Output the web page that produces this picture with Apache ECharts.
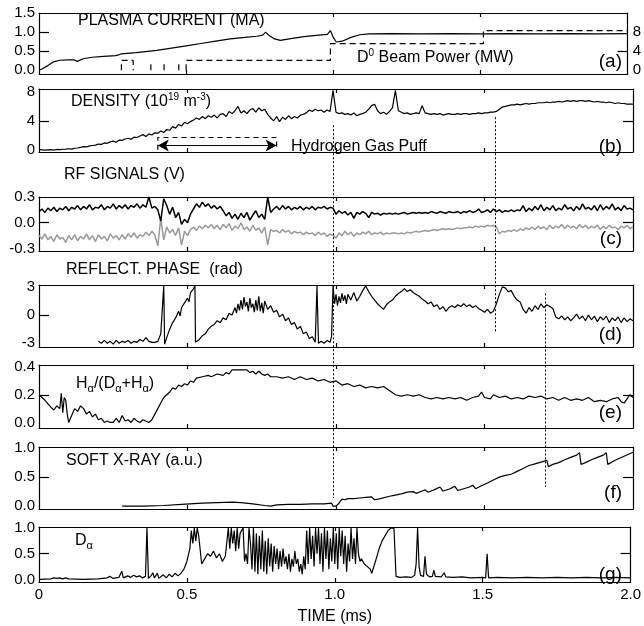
<!DOCTYPE html>
<html>
<head>
<meta charset="utf-8">
<script src="https://cdn.jsdelivr.net/npm/echarts@6/dist/echarts.min.js"></script>
<style>
html, body { margin: 0; padding: 0; background: #fff; }
#main { width: 644px; height: 626px; }
</style>
</head>
<body>
<div id="main"></div>
<script>
// ---- data (time in ms) ----
var timeTicks = [0.5, 1.0, 1.5];
var timeLabels = [0, 0.5, 1.0, 1.5, 2.0];

// (a) plasma current, MA
var plasmaCurrent = [[0,0.0],[0.01,0.03],[0.03,0.12],[0.05,0.22],[0.07,0.26],[0.1,0.27],[0.12,0.27],[0.13,0.23],[0.15,0.3],[0.18,0.34],[0.22,0.36],[0.26,0.38],[0.27,0.4],[0.28,0.43],[0.33,0.46],[0.4,0.52],[0.45,0.58],[0.5,0.64],[0.55,0.7],[0.6,0.76],[0.65,0.82],[0.7,0.86],[0.74,0.89],[0.76,0.92],[0.77,1.0],[0.78,0.92],[0.8,0.82],[0.82,0.78],[0.85,0.82],[0.9,0.88],[0.95,0.92],[0.98,0.94],[0.99,1.04],[1.0,0.86],[1.01,0.74],[1.03,0.76],[1.06,0.86],[1.09,0.93],[1.12,0.95],[1.2,0.96],[1.3,0.95],[1.4,0.96],[1.5,0.95],[1.6,0.96],[1.7,0.95],[1.8,0.96],[1.9,0.95],[2.0,0.96]];
// (a) D0 beam power, MW ('-' = gap)
var beamPower = [[0.28,0],[0.28,2.05],[0.32,2.05],[0.32,0],[0.35,'-'],[0.38,0],[0.38,2.05],[0.40,'-'],[0.425,0],[0.425,2.05],[0.45,'-'],[0.475,0],[0.475,2.05],[0.49,'-'],[0.5,0],[0.5,2.05],[0.99,2.05],[0.99,5.56],[1.51,5.56],[1.51,8.3],[2.0,8.3]];

// (b) density, 1e19 m^-3, every 0.01 ms
var density = [0.05,0.0,-0.05,0.0,0.02,-0.03,0.05,0.02,0.08,0.1,
  0.15,0.1,0.22,0.25,0.35,0.45,0.4,0.55,0.6,0.65,
  0.8,0.75,0.95,0.9,1.1,1.2,1.05,1.35,1.3,1.5,
  1.6,1.45,1.75,1.7,1.9,2.1,1.85,2.2,2.05,2.35,
  2.3,2.6,2.4,2.8,2.7,3.2,3.0,3.5,3.3,3.8,
  3.6,3.9,4.1,4.4,4.2,4.6,4.3,4.7,4.5,4.8,
  4.4,4.9,5.0,4.6,5.3,5.0,5.4,6.0,5.1,5.4,
  5.0,5.5,5.7,5.2,5.8,5.4,5.6,4.9,4.4,4.0,
  4.6,3.9,4.5,4.2,4.7,4.3,4.6,4.4,4.8,4.9,
  5.1,5.5,5.3,5.6,5.4,5.5,5.2,5.5,5.3,8.2,
  5.2,5.0,5.1,4.9,5.0,4.8,5.1,4.7,4.9,5.0,
  5.2,5.6,6.1,6.3,5.4,5.0,5.2,4.9,5.3,5.8,
  8.2,5.4,5.2,5.0,5.1,4.9,5.0,5.1,5.0,6.1,
  5.1,5.0,4.9,5.0,4.9,5.0,4.8,4.9,5.0,4.9,
  4.9,5.0,4.9,5.0,5.0,4.9,5.0,5.0,5.1,5.0,
  5.1,5.1,5.2,5.2,5.3,5.6,5.9,6.0,6.1,6.2,
  6.2,6.3,6.2,6.3,6.4,6.3,6.4,6.4,6.5,6.5,
  6.5,6.6,6.5,6.6,6.6,6.7,6.6,6.7,6.8,6.7,
  6.8,6.7,6.8,6.8,6.7,6.8,6.7,6.6,6.7,6.6,
  6.6,6.5,6.6,6.5,6.4,6.5,6.4,6.4,6.3,6.3,
  6.3];
var gasPuff = [[0.4,0],[0.4,1.7],[0.8,1.7],[0.8,0]];
var gasPuffArrow = [0.4, 0.8, 0.6];

// (c) RF signals, V, every 0.01 ms
var rfBlack = [0.13,0.16,0.12,0.17,0.14,0.18,0.13,0.17,0.15,0.19,
  0.14,0.18,0.16,0.20,0.15,0.19,0.16,0.21,0.15,0.18,
  0.17,0.21,0.15,0.19,0.17,0.22,0.16,0.20,0.17,0.21,
  0.16,0.20,0.18,0.22,0.17,0.21,0.18,0.30,0.17,0.19,
  0.15,0.02,0.28,0.20,0.10,0.18,0.06,0.12,-0.02,0.04,
  0.0,0.10,0.16,0.22,0.18,0.24,0.19,0.22,0.17,0.20,
  0.16,0.19,0.14,0.08,0.12,0.05,0.10,0.04,0.11,0.06,
  0.12,0.03,0.09,0.14,0.06,0.10,0.04,0.30,0.12,0.16,
  0.19,0.15,0.20,0.16,0.19,0.15,0.18,0.16,0.19,0.15,
  0.18,0.16,0.19,0.15,0.18,0.17,0.19,0.16,0.18,0.17,
  0.10,0.14,0.11,0.13,0.09,0.12,0.05,0.12,0.10,0.13,
  0.11,0.06,0.12,0.10,0.11,0.09,0.11,0.10,0.11,0.10,
  0.11,0.10,0.11,0.12,0.10,0.11,0.12,0.11,0.12,0.11,
  0.12,0.11,0.13,0.12,0.11,0.13,0.12,0.11,0.13,0.12,
  0.12,0.13,0.11,0.13,0.12,0.14,0.12,0.13,0.16,0.12,
  0.13,0.15,0.12,0.16,0.13,0.15,0.12,0.14,0.13,0.15,
  0.13,0.15,0.14,0.20,0.13,0.17,0.14,0.19,0.15,0.21,
  0.14,0.18,0.15,0.20,0.14,0.17,0.15,0.21,0.16,0.18,
  0.14,0.19,0.15,0.22,0.16,0.18,0.15,0.20,0.14,0.21,
  0.15,0.19,0.16,0.22,0.15,0.18,0.14,0.20,0.16,0.17,
  0.15];
var rfGray = [-0.15,-0.19,-0.13,-0.20,-0.16,-0.22,-0.14,-0.19,-0.17,-0.23,
  -0.15,-0.20,-0.14,-0.21,-0.16,-0.19,-0.13,-0.20,-0.15,-0.22,
  -0.14,-0.19,-0.16,-0.21,-0.13,-0.18,-0.15,-0.20,-0.14,-0.19,
  -0.13,-0.17,-0.12,-0.18,-0.14,-0.16,-0.11,-0.15,-0.10,-0.14,
  -0.27,0.05,-0.20,-0.05,-0.12,-0.08,-0.15,-0.06,-0.26,-0.10,
  -0.15,-0.08,-0.05,-0.09,-0.04,-0.07,-0.03,-0.06,-0.02,-0.07,
  -0.03,-0.08,-0.02,-0.06,-0.01,-0.09,-0.04,-0.07,0.0,-0.08,
  -0.05,-0.10,-0.03,-0.09,-0.06,-0.12,-0.05,-0.26,-0.08,-0.10,
  -0.09,-0.12,-0.08,-0.11,-0.09,-0.13,-0.10,-0.12,-0.11,-0.14,
  -0.11,-0.13,-0.12,-0.15,-0.11,-0.14,-0.12,-0.16,-0.13,-0.15,
  -0.18,-0.12,-0.15,-0.10,-0.14,-0.11,-0.16,-0.12,-0.14,-0.11,
  -0.13,-0.10,-0.14,-0.12,-0.13,-0.11,-0.14,-0.12,-0.13,-0.12,
  -0.12,-0.13,-0.12,-0.13,-0.11,-0.12,-0.11,-0.10,-0.11,-0.10,
  -0.09,-0.10,-0.09,-0.08,-0.09,-0.08,-0.07,-0.08,-0.07,-0.08,
  -0.07,-0.06,-0.07,-0.06,-0.06,-0.05,-0.06,-0.04,-0.05,-0.04,
  -0.05,-0.03,-0.04,-0.03,-0.05,-0.13,-0.10,-0.11,-0.09,-0.10,
  -0.08,-0.10,-0.07,-0.09,-0.06,-0.08,-0.05,-0.08,-0.04,-0.07,
  -0.05,-0.08,-0.03,-0.07,-0.04,-0.06,-0.02,-0.07,-0.03,-0.06,
  -0.04,-0.07,-0.02,-0.06,-0.03,-0.07,-0.04,-0.06,-0.03,-0.08,
  -0.04,-0.07,-0.03,-0.06,-0.05,-0.08,-0.04,-0.06,-0.03,-0.07,
  -0.05];

// (d) reflectometer phase, rad
var phase = [[0.20,-2.8],[0.21,-3.0],[0.22,-2.7],[0.23,-3.0],[0.24,-2.8],[0.25,-3.1],[0.26,-2.7],[0.27,-3.0],[0.28,-2.8],[0.29,-2.9],[0.30,-2.7],[0.31,-3.0],[0.32,-2.8],[0.33,-2.9],[0.34,-2.6],[0.35,-2.8],[0.36,-2.4],[0.37,-2.8],[0.38,-2.9],[0.39,-2.9],[0.40,-2.8],[0.41,-2.0],[0.42,3.1],[0.423,-3.1],[0.43,-2.4],[0.44,-1.5],[0.45,-0.8],[0.46,-0.3],[0.47,0.4],[0.475,-0.1],[0.48,0.8],[0.49,1.3],[0.50,1.8],[0.505,1.4],[0.51,2.4],[0.52,2.8],[0.525,3.1],[0.527,-2.9],[0.54,-2.6],[0.55,-2.2],[0.56,-2.0],[0.57,-1.5],[0.58,-1.2],[0.59,-1.0],[0.60,-0.6],[0.61,-0.8],[0.62,-0.3],[0.63,-0.5],[0.64,0.2],[0.65,0.0],[0.66,0.8],[0.665,0.2],[0.67,1.2],[0.675,0.5],[0.68,1.6],[0.685,0.6],[0.69,1.9],[0.695,0.9],[0.70,1.4],[0.705,0.4],[0.71,1.8],[0.715,0.8],[0.72,1.2],[0.725,0.3],[0.73,1.6],[0.735,0.5],[0.74,2.0],[0.745,0.4],[0.75,1.3],[0.755,0.2],[0.76,1.5],[0.77,0.6],[0.78,1.0],[0.79,0.3],[0.80,0.5],[0.81,-0.2],[0.82,0.1],[0.83,-0.6],[0.84,-0.3],[0.85,-1.0],[0.86,-0.8],[0.87,-1.5],[0.88,-1.2],[0.89,-2.0],[0.90,-1.8],[0.91,-2.5],[0.92,-2.3],[0.93,-2.9],[0.935,-3.0],[0.936,3.1],[0.94,3.1],[0.941,-3.0],[0.95,-2.8],[0.96,-3.0],[0.97,-2.7],[0.98,-2.9],[0.985,-2.3],[0.99,3.1],[0.995,1.2],[1.00,2.2],[1.005,1.0],[1.01,2.0],[1.015,1.3],[1.02,2.3],[1.025,1.5],[1.03,2.1],[1.035,1.2],[1.04,2.2],[1.05,1.6],[1.06,2.4],[1.07,1.5],[1.08,2.0],[1.09,2.6],[1.10,3.1],[1.11,2.5],[1.12,2.0],[1.13,1.6],[1.14,1.2],[1.15,0.9],[1.16,0.6],[1.17,1.1],[1.18,1.4],[1.19,1.6],[1.20,2.0],[1.21,2.3],[1.22,2.5],[1.23,2.8],[1.24,2.5],[1.25,2.7],[1.26,2.4],[1.27,2.2],[1.28,2.0],[1.29,1.7],[1.30,1.5],[1.31,1.2],[1.32,1.4],[1.33,0.9],[1.34,1.1],[1.35,0.6],[1.36,0.9],[1.37,0.4],[1.38,0.8],[1.39,1.0],[1.40,0.8],[1.41,1.1],[1.42,0.9],[1.43,1.2],[1.44,0.9],[1.45,1.1],[1.46,0.8],[1.47,1.0],[1.48,0.7],[1.49,0.5],[1.50,0.3],[1.51,0.6],[1.52,0.2],[1.53,0.4],[1.54,1.2],[1.55,2.2],[1.56,3.0],[1.57,2.9],[1.58,2.5],[1.59,2.6],[1.60,2.0],[1.61,1.6],[1.62,1.4],[1.63,0.6],[1.64,0.2],[1.65,0.8],[1.66,0.4],[1.67,1.0],[1.68,0.6],[1.69,1.2],[1.70,0.8],[1.71,1.1],[1.72,0.9],[1.73,0.7],[1.74,-0.2],[1.75,-0.4],[1.76,-0.1],[1.77,-0.5],[1.78,-0.2],[1.79,-0.6],[1.80,-0.3],[1.81,0.1],[1.82,-0.4],[1.83,-0.1],[1.84,-0.6],[1.85,0.0],[1.86,-0.5],[1.87,-0.1],[1.88,-0.7],[1.89,-0.2],[1.90,-0.5],[1.91,-0.1],[1.92,-0.8],[1.93,-0.3],[1.94,-0.6],[1.95,-0.2],[1.96,-0.8],[1.97,-0.3],[1.98,-0.7],[1.99,-0.4],[2.0,-0.6]];

// (e) H-alpha / (D-alpha + H-alpha)
var hRatio = [[0,0.2],[0.02,0.16],[0.04,0.11],[0.05,0.09],[0.06,0.12],[0.07,0.1],[0.075,0.21],[0.08,0.07],[0.085,0.18],[0.09,0.16],[0.095,0.06],[0.1,0.0],[0.11,0.05],[0.12,0.1],[0.13,0.08],[0.14,0.12],[0.15,0.1],[0.16,0.06],[0.17,0.08],[0.18,0.04],[0.19,0.06],[0.2,0.02],[0.21,0.03],[0.22,0.0],[0.23,0.01],[0.24,0.0],[0.25,0.0],[0.26,0.03],[0.27,0.0],[0.28,0.05],[0.29,0.01],[0.3,0.02],[0.31,0.0],[0.32,0.03],[0.33,0.01],[0.34,0.0],[0.35,0.02],[0.37,0.0],[0.38,0.02],[0.39,0.06],[0.4,0.1],[0.41,0.14],[0.42,0.18],[0.43,0.2],[0.44,0.22],[0.45,0.25],[0.46,0.24],[0.47,0.27],[0.48,0.26],[0.49,0.28],[0.5,0.27],[0.51,0.3],[0.52,0.29],[0.53,0.32],[0.55,0.33],[0.57,0.34],[0.58,0.33],[0.6,0.35],[0.62,0.34],[0.63,0.36],[0.64,0.35],[0.65,0.38],[0.7,0.38],[0.71,0.36],[0.72,0.37],[0.73,0.35],[0.74,0.37],[0.75,0.35],[0.76,0.34],[0.77,0.35],[0.78,0.33],[0.8,0.33],[0.82,0.32],[0.84,0.33],[0.86,0.31],[0.88,0.33],[0.9,0.31],[0.92,0.32],[0.94,0.3],[0.96,0.31],[0.98,0.29],[1.0,0.3],[1.02,0.27],[1.04,0.28],[1.06,0.26],[1.08,0.27],[1.1,0.25],[1.12,0.26],[1.14,0.25],[1.16,0.26],[1.18,0.23],[1.2,0.2],[1.22,0.19],[1.24,0.2],[1.26,0.19],[1.28,0.2],[1.3,0.18],[1.32,0.17],[1.34,0.18],[1.36,0.17],[1.38,0.18],[1.4,0.17],[1.42,0.18],[1.44,0.16],[1.46,0.18],[1.48,0.19],[1.49,0.22],[1.5,0.18],[1.52,0.17],[1.53,0.2],[1.55,0.18],[1.57,0.19],[1.59,0.17],[1.61,0.18],[1.63,0.17],[1.65,0.19],[1.67,0.18],[1.69,0.19],[1.71,0.17],[1.73,0.18],[1.75,0.16],[1.77,0.18],[1.79,0.16],[1.81,0.17],[1.83,0.16],[1.85,0.18],[1.87,0.15],[1.89,0.16],[1.91,0.15],[1.93,0.17],[1.95,0.18],[1.96,0.15],[1.97,0.14],[1.98,0.17],[1.99,0.2],[2.0,0.18]];

// (f) soft x-ray, a.u.
var softXray = [[0.28,0.0],[0.35,0.0],[0.42,0.01],[0.48,0.03],[0.55,0.05],[0.6,0.06],[0.65,0.07],[0.68,0.06],[0.72,0.04],[0.76,0.01],[0.78,0.0],[0.8,0.02],[0.84,0.03],[0.88,0.03],[0.92,0.04],[0.96,0.04],[0.985,0.05],[0.99,0.0],[1.0,0.0],[1.01,0.05],[1.02,0.12],[1.03,0.11],[1.04,0.13],[1.06,0.13],[1.08,0.14],[1.1,0.15],[1.12,0.16],[1.13,0.11],[1.15,0.13],[1.18,0.17],[1.2,0.19],[1.22,0.21],[1.24,0.24],[1.26,0.25],[1.27,0.22],[1.29,0.26],[1.3,0.28],[1.31,0.24],[1.33,0.28],[1.35,0.33],[1.36,0.26],[1.38,0.29],[1.4,0.34],[1.41,0.27],[1.43,0.3],[1.45,0.33],[1.46,0.36],[1.47,0.3],[1.49,0.35],[1.51,0.4],[1.53,0.45],[1.55,0.5],[1.57,0.53],[1.59,0.55],[1.61,0.6],[1.63,0.65],[1.65,0.7],[1.67,0.73],[1.69,0.76],[1.71,0.79],[1.715,0.68],[1.73,0.72],[1.75,0.75],[1.77,0.8],[1.79,0.84],[1.81,0.88],[1.82,0.92],[1.825,0.72],[1.84,0.75],[1.86,0.8],[1.88,0.84],[1.9,0.88],[1.91,0.92],[1.915,0.72],[1.94,0.79],[1.97,0.86],[2.0,0.93]];

// (g) D-alpha, a.u.
var dAlpha = [[0,0.0],[0.04,0.01],[0.05,0.03],[0.06,0.02],[0.07,0.03],[0.08,0.01],[0.09,0.03],[0.1,0.01],[0.15,0.0],[0.2,0.01],[0.23,0.03],[0.24,0.06],[0.25,0.02],[0.27,0.04],[0.28,0.16],[0.285,0.03],[0.3,0.07],[0.31,0.04],[0.32,0.08],[0.33,0.05],[0.34,0.07],[0.35,0.03],[0.36,0.06],[0.365,1.0],[0.37,0.02],[0.38,0.08],[0.385,0.13],[0.39,0.03],[0.4,0.12],[0.405,0.02],[0.41,0.05],[0.42,0.09],[0.43,0.03],[0.44,0.1],[0.45,0.05],[0.46,0.12],[0.47,0.07],[0.48,0.12],[0.49,0.2],[0.5,0.35],[0.51,0.6],[0.515,0.95],[0.52,0.7],[0.525,1.0],[0.53,0.75],[0.535,1.0],[0.54,0.85],[0.55,0.3],[0.56,0.4],[0.57,0.5],[0.58,0.45],[0.59,0.55],[0.6,0.42],[0.61,0.5],[0.62,0.35],[0.63,0.45],[0.64,1.0],[0.645,0.6],[0.65,1.0],[0.655,0.7],[0.66,0.95],[0.665,0.55],[0.67,1.0],[0.675,0.6],[0.68,0.9],[0.69,1.0],[0.695,0.35],[0.7,0.5],[0.705,0.3],[0.71,1.0],[0.715,0.7],[0.72,0.2],[0.725,1.0],[0.73,0.15],[0.735,0.9],[0.74,0.1],[0.745,0.85],[0.75,0.2],[0.755,0.95],[0.76,0.15],[0.765,0.75],[0.77,0.1],[0.775,0.8],[0.78,0.25],[0.785,0.7],[0.79,0.15],[0.795,0.65],[0.8,0.3],[0.805,0.6],[0.81,0.2],[0.815,0.55],[0.82,0.25],[0.825,0.6],[0.83,0.3],[0.835,0.45],[0.84,0.2],[0.845,0.5],[0.85,0.15],[0.855,0.4],[0.86,0.25],[0.865,0.55],[0.87,0.3],[0.875,0.4],[0.88,0.15],[0.885,0.3],[0.89,0.1],[0.895,0.45],[0.9,0.2],[0.905,0.95],[0.91,0.3],[0.915,1.0],[0.92,0.4],[0.925,0.85],[0.93,0.25],[0.935,1.0],[0.94,0.5],[0.945,1.0],[0.95,0.3],[0.955,0.9],[0.96,0.15],[0.965,1.0],[0.97,0.4],[0.975,0.95],[0.98,0.2],[0.985,0.8],[0.99,0.35],[0.995,1.0],[1.0,0.3],[1.005,0.9],[1.01,0.2],[1.015,1.0],[1.02,0.45],[1.025,0.95],[1.03,0.3],[1.035,0.85],[1.04,0.15],[1.045,0.7],[1.05,0.35],[1.055,1.0],[1.06,0.4],[1.065,0.8],[1.07,0.3],[1.075,1.0],[1.08,0.5],[1.085,0.35],[1.09,0.4],[1.1,0.3],[1.11,0.25],[1.12,0.2],[1.125,0.12],[1.13,0.15],[1.14,0.4],[1.15,0.6],[1.16,0.75],[1.17,0.85],[1.18,0.95],[1.19,1.0],[1.2,1.0],[1.205,1.0],[1.207,0.06],[1.22,0.04],[1.24,0.05],[1.26,0.04],[1.27,0.08],[1.275,0.3],[1.28,1.0],[1.285,0.25],[1.29,0.08],[1.3,0.06],[1.305,0.45],[1.31,0.1],[1.32,0.05],[1.33,0.06],[1.335,0.18],[1.34,0.06],[1.36,0.05],[1.37,0.13],[1.375,0.05],[1.4,0.04],[1.43,0.05],[1.46,0.03],[1.5,0.04],[1.51,0.03],[1.515,0.5],[1.52,0.03],[1.55,0.04],[1.6,0.03],[1.65,0.04],[1.7,0.03],[1.75,0.04],[1.8,0.03],[1.85,0.04],[1.9,0.03],[1.95,0.04],[2.0,0.03]];

// y-axis ranges, labels and ticks per panel (a..g)
var yRange = [[-0.1,1.5],[-0.3,8.4],[-0.33,0.3],[-3.4,3.2],[-0.04,0.415],[-0.05,1.02],[-0.05,1.02]];
var yLabels = [[0,0.5,1,1.5],[0,4,8],[-0.3,0,0.3],[-3,0,3],[0,0.2,0.4],[0,0.5,1],[0,0.5,1]];
var yTicks = [[0.5,1],[4],[0],[0],[0.2],[0.5],[0.5]];
var yTicksRight = [[4],[4],[0],[],[0.2],[0.5],[0.5]];
var yDecimals = [1,0,1,0,1,1,1];
var beamRange = [-0.8, 12];
var beamLabels = [0, 4, 8];

// ---- layout ----
var FONT = 'Liberation Sans, Arial, Helvetica, sans-serif';
var frames = [[13,61],[89,63],[197,54],[285,62],[365,63],[447,62],[527,61]];
var frameLine = { color: '#000', width: 1.2 };

function steps(vals, dt) {
    return vals.map(function (v, i) { return [+(i * dt).toFixed(3), v]; });
}

var grid = [], xAxis = [], yAxis = [];
frames.forEach(function (f, i) {
    var last = i === frames.length - 1;
    grid.push({ left: 39, right: 11, top: f[0], height: f[1] });
    xAxis.push({
        type: 'value', gridIndex: i, min: 0, max: 2, position: 'bottom',
        axisLine: { onZero: false, lineStyle: frameLine },
        axisTick: { inside: true, length: 4, customValues: timeTicks, lineStyle: frameLine },
        axisLabel: {
            show: last, customValues: timeLabels, margin: 5, color: '#000', fontSize: 15, fontFamily: FONT,
            formatter: function (v) { return v === 0 ? '0' : v.toFixed(1); }
        },
        splitLine: { show: false },
        name: last ? 'TIME (ms)' : '', nameLocation: 'middle', nameGap: 27,
        nameTextStyle: { color: '#000', fontSize: 16, fontFamily: FONT }
    });
    xAxis.push({
        type: 'value', gridIndex: i, min: 0, max: 2, position: 'top',
        axisLine: { onZero: false, lineStyle: frameLine },
        axisTick: { inside: true, length: 4, customValues: timeTicks, lineStyle: frameLine },
        axisLabel: { show: false },
        splitLine: { show: false }
    });
    var dec = yDecimals[i];
    yAxis.push({
        type: 'value', gridIndex: i, min: yRange[i][0], max: yRange[i][1], position: 'left',
        axisLine: { show: true, onZero: false, lineStyle: frameLine },
        axisTick: { show: true, inside: true, length: 10, customValues: yTicks[i], lineStyle: frameLine },
        axisLabel: {
            customValues: yLabels[i], margin: 4, color: '#000', fontSize: 15, fontFamily: FONT,
            formatter: function (v) { return v.toFixed(dec); }
        },
        splitLine: { show: false }
    });
    var beam = i === 0;
    yAxis.push({
        type: 'value', gridIndex: i, position: 'right',
        min: beam ? beamRange[0] : yRange[i][0], max: beam ? beamRange[1] : yRange[i][1],
        axisLine: { show: true, onZero: false, lineStyle: frameLine },
        axisTick: { show: yTicksRight[i].length > 0, inside: true, length: 10, customValues: yTicksRight[i], lineStyle: frameLine },
        axisLabel: {
            show: beam, customValues: beamLabels, margin: 5, color: '#000', fontSize: 15, fontFamily: FONT
        },
        splitLine: { show: false }
    });
});

function trace(panel, data, extra) {
    var s = {
        type: 'line', xAxisIndex: panel * 2, yAxisIndex: panel * 2, data: data,
        symbol: 'none', silent: true, animation: false,
        lineStyle: { color: '#000', width: 1.2 }
    };
    for (var k in extra) s[k] = extra[k];
    return s;
}

var series = [
    trace(0, plasmaCurrent),
    trace(0, beamPower, { yAxisIndex: 1, lineStyle: { color: '#000', width: 1.2, type: [6, 4] } }),
    trace(1, steps(density, 0.01)),
    trace(1, gasPuff, {
        lineStyle: { color: '#000', width: 1.2, type: [5, 4] },
        markLine: {
            silent: true, symbol: ['arrow', 'arrow'], symbolSize: [9, 11],
            label: { show: false },
            lineStyle: { color: '#000', width: 1.2, type: 'solid' },
            data: [[{ coord: [gasPuffArrow[0], gasPuffArrow[2]] }, { coord: [gasPuffArrow[1], gasPuffArrow[2]] }]]
        }
    }),
    trace(2, steps(rfGray, 0.01), { lineStyle: { color: '#9a9a9a', width: 1.5 } }),
    trace(2, steps(rfBlack, 0.01), { lineStyle: { color: '#000', width: 1.5 } }),
    trace(3, phase),
    trace(4, hRatio),
    trace(5, softXray),
    trace(6, dAlpha)
];

var chart = echarts.init(document.getElementById('main'));
chart.setOption({
    animation: false,
    backgroundColor: '#fff',
    grid: grid, xAxis: xAxis, yAxis: yAxis, series: series
});

// ---- annotations ----
var rich = {
    a: { fontSize: 16, fontFamily: FONT, color: '#000', lineHeight: 20 },
    sup: { fontSize: 10, fontFamily: FONT, color: '#000', verticalAlign: 'top', lineHeight: 12 },
    sub: { fontSize: 11, fontFamily: FONT, color: '#000', verticalAlign: 'bottom', lineHeight: 12 }
};
var labels = [
    ['{a|PLASMA CURRENT (MA)}', 78, 21],
    ['{a|D}{sup|0}{a| Beam Power (MW)}', 357, 58],
    ['{a|DENSITY (10}{sup|19}{a| m}{sup|-3}{a|)}', 71, 102],
    ['{a|Hydrogen Gas Puff}', 291, 147],
    ['{a|RF SIGNALS (V)}', 64, 175],
    ['{a|REFLECT. PHASE  (rad)}', 66, 270],
    ['{a|H}{sub|α}{a|/(D}{sub|α}{a|+H}{sub|α}{a|)}', 76, 384],
    ['{a|SOFT X-RAY (a.u.)}', 66, 461],
    ['{a|D}{sub|α}', 75, 541]
];
var tags = [['(a)', 62], ['(b)', 147], ['(c)', 239], ['(d)', 335], ['(e)', 413], ['(f)', 493], ['(g)', 575]];

var graphic = [];
labels.forEach(function (l) {
    graphic.push({
        type: 'text', x: l[1], y: l[2], silent: true,
        style: { text: l[0], rich: rich, fontSize: 16, fontFamily: FONT, fill: '#000', verticalAlign: 'middle' }
    });
});
tags.forEach(function (t) {
    graphic.push({
        type: 'text', x: 622, y: t[1], silent: true,
        style: { text: t[0], fontSize: 19, fontFamily: FONT, fill: '#000', align: 'right', verticalAlign: 'middle' }
    });
});

// dotted guide lines: [time, panel from, value from, panel to, value to]
var guides = [[1.0, 1, 3.4, 5, 0.14], [1.55, 1, 4.5, 3, -1.9], [1.72, 3, 2.3, 5, 0.33]];
guides.forEach(function (g) {
    var x = chart.convertToPixel({ xAxisIndex: 0 }, g[0]);
    var y1 = chart.convertToPixel({ yAxisIndex: g[1] * 2 }, g[2]);
    var y2 = chart.convertToPixel({ yAxisIndex: g[3] * 2 }, g[4]);
    graphic.push({
        type: 'line', silent: true, z: 50,
        shape: { x1: Math.round(x) + 0.5, y1: y1, x2: Math.round(x) + 0.5, y2: y2 },
        style: { stroke: '#000', lineWidth: 1, lineDash: [2, 2] }
    });
});
chart.setOption({ graphic: graphic });
</script>
</body>
</html>
